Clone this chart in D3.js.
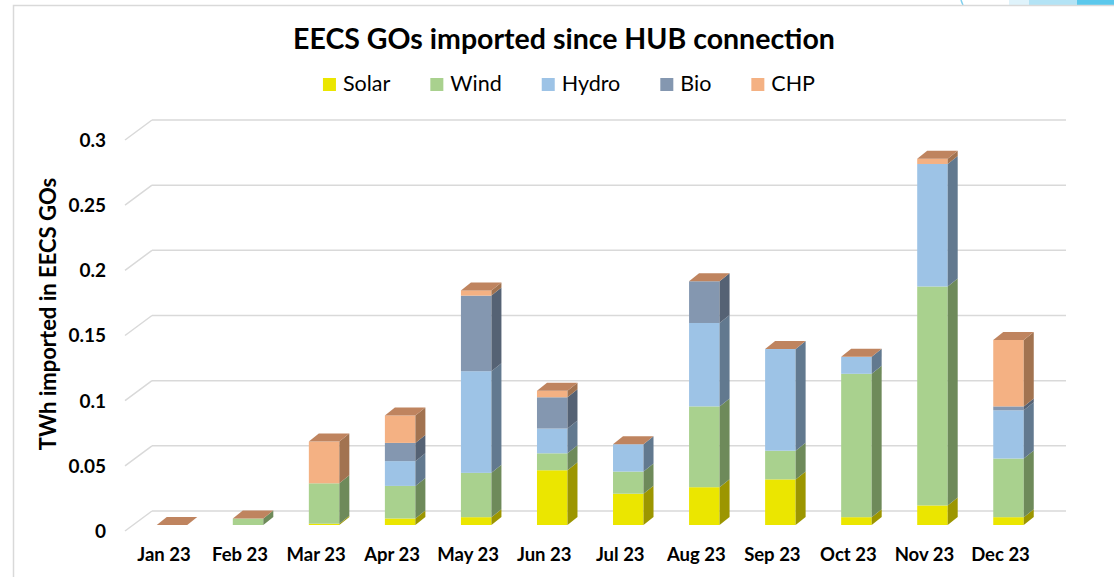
<!DOCTYPE html>
<html>
<head>
<meta charset="utf-8">
<script src="https://cdn.jsdelivr.net/npm/d3@7"></script>
<style>
    body { margin: 0; background: #ffffff; }
    svg text { font-family: Lato, "Open Sans", sans-serif; fill: #000000; }
</style>
</head>
<body>
<div id="chart"></div>
<script>
// Data (TWh of EECS GOs imported per month)
var months = ["Jan 23", "Feb 23", "Mar 23", "Apr 23", "May 23", "Jun 23", "Jul 23", "Aug 23", "Sep 23", "Oct 23", "Nov 23", "Dec 23"];
var seriesNames = ["Solar", "Wind", "Hydro", "Bio", "CHP"];
var solar = [0, 0, 0.001, 0.005, 0.006, 0.042, 0.024, 0.029, 0.035, 0.006, 0.015, 0.006];
var wind  = [0, 0.005, 0.031, 0.025, 0.034, 0.013, 0.017, 0.062, 0.022, 0.110, 0.168, 0.045];
var hydro = [0, 0, 0, 0.019, 0.078, 0.019, 0.021, 0.064, 0.078, 0.013, 0.094, 0.037];
var bio   = [0, 0, 0, 0.014, 0.058, 0.024, 0, 0.032, 0, 0, 0, 0.003];
var chp   = [0, 0, 0.032, 0.021, 0.004, 0.005, 0, 0, 0, 0, 0.004, 0.051];
var yTicks = [0, 0.05, 0.1, 0.15, 0.2, 0.25, 0.3];

var width = 1114;
var height = 577;

// colours: front, side
var colors = {
    Solar: ["#ebe600", "#9c9600"],
    Wind:  ["#a9d18e", "#6e8a5a"],
    Hydro: ["#9dc3e6", "#62798f"],
    Bio:   ["#8497b0", "#556274"],
    CHP:   ["#f4b183", "#a27350"]
};
var topColor = "#bf845f";

// 3d offsets
var depthX = 10, depthY = 8;      // bar depth
var frontShift = 14;              // bar front below the back wall
var floorX = 27, floorY = 20;     // floor diagonal

var rows = months.map(function (m, i) {
    return { month: m, Solar: solar[i], Wind: wind[i], Hydro: hydro[i], Bio: bio[i], CHP: chp[i] };
});
var stacked = d3.stack().keys(seriesNames)(rows);

// Scales
var xScale = d3.scalePoint().domain(months).range([172, 1008.5]);
var barWidth = 30.5;
var yScale = d3.scaleLinear().domain([0, 0.3]).range([511, 120]);
function yFront(v) { return yScale(v) + frontShift; }

var svg = d3.select("#chart").append("svg")
    .attr("width", width)
    .attr("height", height);

// bits of the slide behind the chart
svg.append("rect").attr("x", 1009).attr("y", 0).attr("width", 20).attr("height", 5).attr("fill", "#dff3fb");
svg.append("rect").attr("x", 1029).attr("y", 0).attr("width", 48).attr("height", 5).attr("fill", "#b3e3f5");
svg.append("rect").attr("x", 1077).attr("y", 0).attr("width", 37).attr("height", 5).attr("fill", "#5bc8ec");
svg.append("path").attr("d", "M961,0 Q962,3 963,5").attr("fill", "none").attr("stroke", "#7fd0ee").attr("stroke-width", 1.5);

// chart border
svg.append("path")
    .attr("d", "M13.5," + height + " V5.5 H" + width)
    .attr("fill", "none")
    .attr("stroke", "#d9d9d9")
    .attr("stroke-width", 1.5);

// Title
svg.append("text")
    .attr("x", 564)
    .attr("y", 49)
    .attr("text-anchor", "middle")
    .style("font-size", "28.5px")
    .style("font-weight", "bold")
    .text("EECS GOs imported since HUB connection");

// Legend
var legend = svg.append("g").attr("class", "legend");
var lx = 0;
seriesNames.forEach(function (name) {
    var item = legend.append("g").attr("transform", "translate(" + lx + ",0)");
    item.append("rect")
        .attr("x", 0).attr("y", 78).attr("width", 13).attr("height", 13)
        .attr("fill", colors[name][0]);
    var t = item.append("text")
        .attr("x", 20).attr("y", 91)
        .style("font-size", "21.5px")
        .text(name);
    lx += 20 + t.node().getComputedTextLength() + 40;
});
var legendWidth = lx - 40;
legend.attr("transform", "translate(" + (569 - legendWidth / 2) + ",0)");

// Gridlines on the back wall and the floor diagonals
var grid = svg.append("g").attr("class", "grid");
grid.selectAll("line.back")
    .data(yTicks)
    .enter().append("line")
    .attr("class", "back")
    .attr("x1", 152).attr("x2", 1066)
    .attr("y1", function (d) { return yScale(d); })
    .attr("y2", function (d) { return yScale(d); })
    .attr("stroke", "#d9d9d9")
    .attr("stroke-width", 1.5);
grid.selectAll("line.diag")
    .data(yTicks)
    .enter().append("line")
    .attr("class", "diag")
    .attr("x1", 152 - floorX).attr("x2", 152)
    .attr("y1", function (d) { return yScale(d) + floorY; })
    .attr("y2", function (d) { return yScale(d); })
    .attr("stroke", "#d9d9d9")
    .attr("stroke-width", 1.5);

// y tick labels
svg.selectAll("text.ytick")
    .data(yTicks)
    .enter().append("text")
    .attr("class", "ytick")
    .attr("x", 106)
    .attr("y", function (d) { return yScale(d) + floorY; })
    .attr("dy", "0.36em")
    .attr("text-anchor", "end")
    .style("font-size", "19px")
    .style("font-weight", "bold")
    .text(function (d) { return d; });

// y axis title
svg.append("text")
    .attr("transform", "translate(56,314) rotate(-90)")
    .attr("text-anchor", "middle")
    .style("font-size", "22px")
    .style("font-weight", "bold")
    .text("TWh imported in EECS GOs");

// x labels
svg.selectAll("text.xtick")
    .data(months)
    .enter().append("text")
    .attr("class", "xtick")
    .attr("x", function (d) { return xScale(d) - 8; })
    .attr("y", 561)
    .attr("text-anchor", "middle")
    .style("font-size", "18.5px")
    .style("font-weight", "bold")
    .text(function (d) { return d; });

// Bars, month by month, so each column is drawn as one block
var bars = svg.append("g").attr("class", "bars");
months.forEach(function (m, i) {
    var col = bars.append("g");
    var x0 = xScale(m) - barWidth / 2;
    var x1 = x0 + barWidth;
    stacked.forEach(function (layer) {
        var d = layer[i];
        var yt = yFront(d[1]), yb = yFront(d[0]);
        if (yb - yt <= 0) return;
        col.append("rect")
            .attr("x", x0).attr("y", yt)
            .attr("width", barWidth).attr("height", yb - yt)
            .attr("fill", colors[layer.key][0]);
        col.append("polygon")
            .attr("points", [[x1, yt], [x1 + depthX, yt - depthY], [x1 + depthX, yb - depthY], [x1, yb]].join(" "))
            .attr("fill", colors[layer.key][1]);
    });
    // top face
    var top = yFront(stacked[stacked.length - 1][i][1]);
    col.append("polygon")
        .attr("points", [[x0, top], [x0 + depthX, top - depthY], [x1 + depthX, top - depthY], [x1, top]].join(" "))
        .attr("fill", topColor);
});
</script>
</body>
</html>
